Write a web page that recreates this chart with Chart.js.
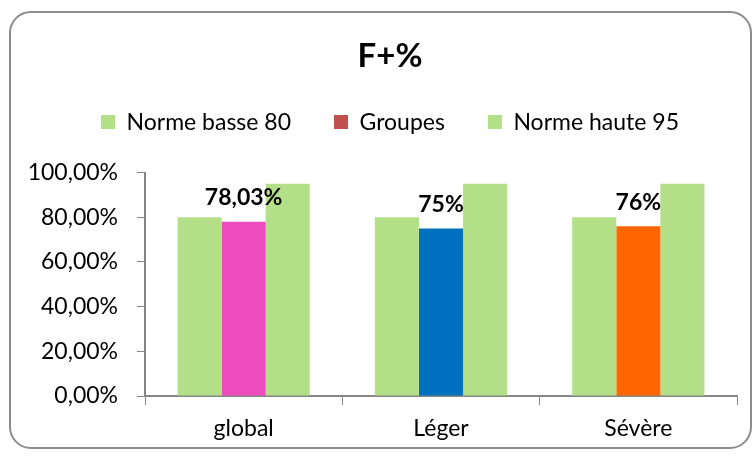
<!DOCTYPE html>
<html><head><meta charset="utf-8">
<script src="https://cdn.jsdelivr.net/npm/chart.js@4/dist/chart.umd.min.js"></script>
<style>
html,body{margin:0;padding:0;background:#fff;}
#wrap{position:relative;width:754px;height:456px;overflow:hidden;}
#frame{position:absolute;left:9px;top:11px;width:743px;height:438px;border:2px solid #8c8c8c;border-radius:22px;box-sizing:border-box;}
canvas{position:absolute;left:0;top:0;}
</style></head><body>
<div id="wrap"><div id="frame"></div><canvas id="c" width="754" height="456"></canvas></div>
<script>
const categories = ['global', 'Léger', 'Sévère'];
const normeBasse = [80, 80, 80];
const groupes = [78.03, 75, 76];
const normeHaute = [95, 95, 95];
const groupLabels = ['78,03%', '75%', '76%'];
const yTicks = [0, 20, 40, 60, 80, 100];
const seriesNames = ['Norme basse 80', 'Groupes', 'Norme haute 95'];
const green = '#B3DF88';
const groupColors = ['#EE4BBE', '#0070C0', '#FF6600'];
const legendColors = [green, '#C0504D', green];
const FONT = 'Lato, "Open Sans", sans-serif';

const labelPlugin = {
  id: 'grpLabels',
  afterDatasetsDraw(chart) {
    const ctx = chart.ctx;
    const meta = chart.getDatasetMeta(1);
    ctx.save();
    ctx.font = 'bold 23px ' + FONT;
    ctx.fillStyle = '#000';
    ctx.textAlign = 'center';
    ctx.textBaseline = 'middle';
    meta.data.forEach((bar, i) => {
      ctx.fillText(groupLabels[i], bar.x, bar.y - 24);
    });
    ctx.restore();
  }
};
const legendGap = {
  id: 'legendGap',
  beforeInit(chart) {
    const fit = chart.legend.fit;
    chart.legend.fit = function () { fit.bind(chart.legend)(); this.height += 18; };
  },
  afterLayout(chart) {
    const t = chart.titleBlock, l = chart.legend;
    if (t) { t.left += 35; }
    if (l) { l.left += 35; l.top -= 11; l.bottom -= 11; }
  }
};

new Chart(document.getElementById('c'), {
  type: 'bar',
  data: {
    labels: categories,
    datasets: [
      { label: seriesNames[0], data: normeBasse, backgroundColor: green },
      { label: seriesNames[1], data: groupes, backgroundColor: groupColors },
      { label: seriesNames[2], data: normeHaute, backgroundColor: green }
    ]
  },
  plugins: [labelPlugin, legendGap],
  options: {
    responsive: false,
    animation: false,
    datasets: { bar: { barPercentage: 1, categoryPercentage: 0.67 } },
    layout: { padding: { top: 18, right: 17, bottom: 0, left: 8 } },
    plugins: {
      tooltip: { enabled: false },
      title: {
        display: true, text: 'F+%', color: '#000',
        font: { family: FONT, size: 33, weight: 'bold' },
        padding: { top: 19, bottom: 2 }
      },
      legend: {
        display: true,
        labels: {
          color: '#000', font: { family: FONT, size: 23 },
          boxWidth: 14, boxHeight: 14, padding: 43,
          generateLabels: (chart) => seriesNames.map((n, i) => ({
            text: n, fillStyle: legendColors[i], strokeStyle: legendColors[i], lineWidth: 0,
            datasetIndex: i, hidden: false
          }))
        }
      }
    },
    scales: {
      x: {
        afterFit: (s) => { s.height = 60; },
        grid: { display: true, drawOnChartArea: false, drawTicks: true, tickLength: 9, color: '#868686', offset: true },
        border: { color: '#868686', width: 2 },
        ticks: { color: '#000', font: { family: FONT, size: 23 }, padding: 10 }
      },
      y: {
        min: 0, max: 100,
        afterBuildTicks: (s) => { s.ticks = yTicks.map(v => ({ value: v })); },
        afterFit: (s) => { s.width = 137; },
        grid: { display: true, drawOnChartArea: false, drawTicks: true, tickLength: 8, color: '#868686' },
        border: { color: '#868686', width: 2 },
        ticks: {
          color: '#000', font: { family: FONT, size: 23 }, padding: 19,
          callback: (v) => v.toFixed(2).replace('.', ',') + '%'
        }
      }
    }
  }
});
</script>
</body></html>
